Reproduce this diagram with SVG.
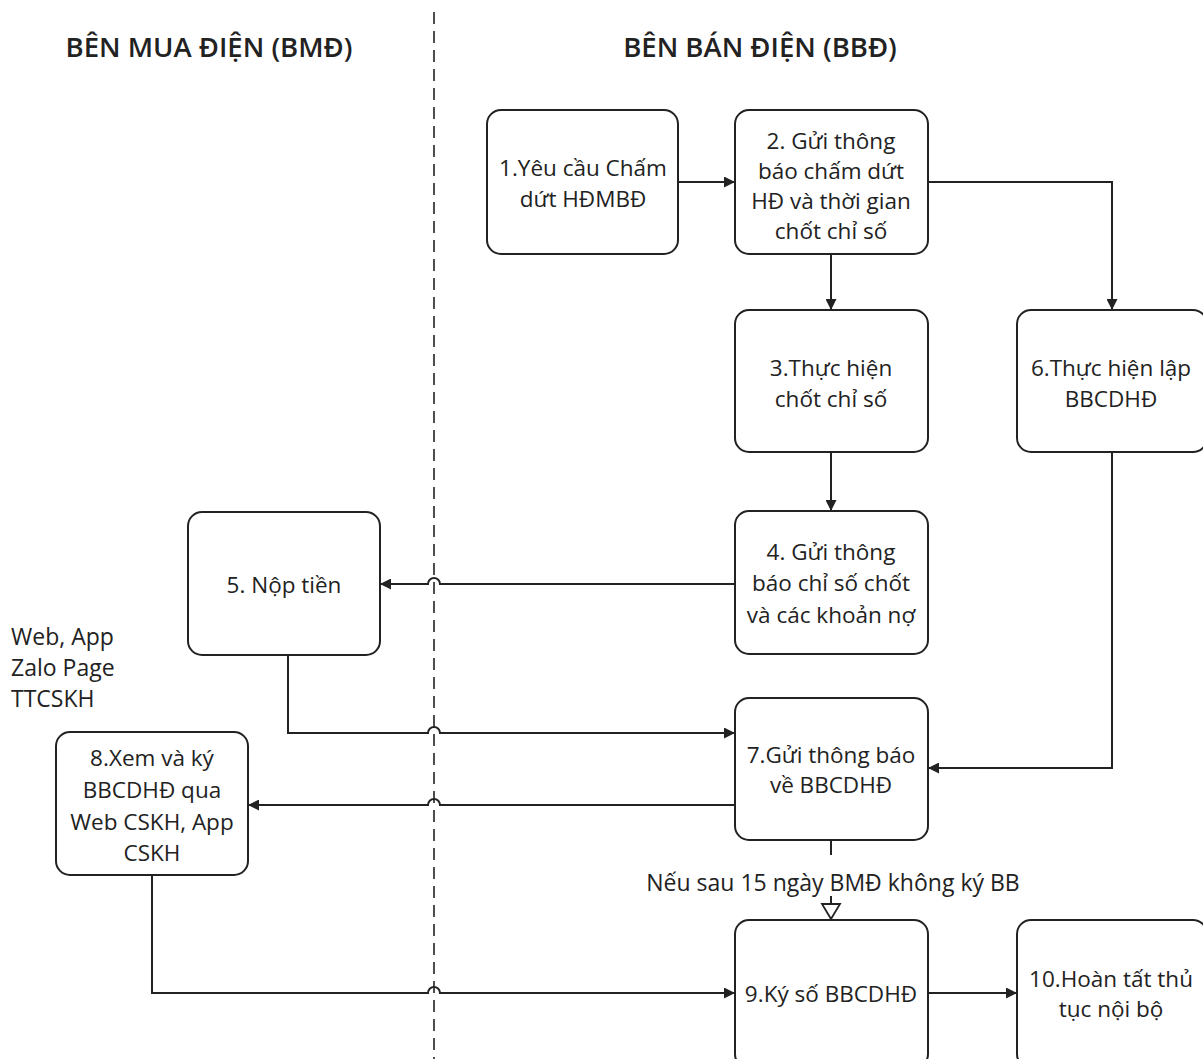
<svg xmlns="http://www.w3.org/2000/svg" width="1203" height="1059" viewBox="0 0 1203 1059">
<defs>
<style>
.box{fill:#fff;stroke:#222;stroke-width:2}
.t{font-family:"Open Sans","Liberation Sans",sans-serif;font-size:22.5px;fill:#222;text-anchor:middle}
.h{font-family:"Open Sans","Liberation Sans",sans-serif;font-size:27.5px;font-weight:600;fill:#222;text-anchor:middle}
.c{fill:none;stroke:#222;stroke-width:2}
.lbl{font-family:"Open Sans","Liberation Sans",sans-serif;font-size:23px;fill:#222}
</style>
<marker id="a" viewBox="0 0 10 10" refX="10" refY="5" markerWidth="11" markerHeight="11" markerUnits="userSpaceOnUse" orient="auto"><path d="M0,0L10,5L0,10z" fill="#222"/></marker>
</defs>
<rect width="1203" height="1059" fill="#fff"/>
<line x1="434" y1="12" x2="434" y2="1059" stroke="#222" stroke-width="1.6" stroke-dasharray="12,7"/>
<text class="h" x="209" y="57">BÊN MUA ĐIỆN (BMĐ)</text>
<text class="h" x="760" y="57">BÊN BÁN ĐIỆN (BBĐ)</text>
<text class="lbl" x="11" y="645">Web, App</text>
<text class="lbl" x="11" y="676">Zalo Page</text>
<text class="lbl" x="11" y="707">TTCSKH</text>
<g id="connectors">
<path class="c" d="M678,182H735" marker-end="url(#a)"/>
<path class="c" d="M928,182H1112V310" marker-end="url(#a)"/>
<path class="c" d="M831,254V310" marker-end="url(#a)"/>
<path class="c" d="M831,452V511" marker-end="url(#a)"/>
<path class="c" d="M735,584H440A6,6 0 0 0 428,584H380" marker-end="url(#a)"/>
<path class="c" d="M288,655V733H428A6,6 0 0 1 440,733H735" marker-end="url(#a)"/>
<path class="c" d="M1112,452V768H928" marker-end="url(#a)"/>
<path class="c" d="M735,805H440A6,6 0 0 0 428,805H248" marker-end="url(#a)"/>
<path class="c" d="M831,840V855"/>
<path class="c" d="M831,896V904"/>
<path d="M822,904L840,904L831,919z" fill="#fff" stroke="#222" stroke-width="1.8"/>
<path class="c" d="M152,875V993H428A6,6 0 0 1 440,993H735" marker-end="url(#a)"/>
<path class="c" d="M928,993H1017" marker-end="url(#a)"/>
<text class="lbl" x="833" y="891" text-anchor="middle">Nếu sau 15 ngày BMĐ không ký BB</text>
</g>
<g id="n1"><rect class="box" x="487" y="110" width="191" height="144" rx="14"/><text class="t" x="583" y="176">1.Yêu cầu Chấm</text><text class="t" x="583" y="207">dứt HĐMBĐ</text></g>
<g id="n2"><rect class="box" x="735" y="110" width="193" height="144" rx="14"/><text class="t" x="831" y="149">2. Gửi thông</text><text class="t" x="831" y="179">báo chấm dứt</text><text class="t" x="831" y="209">HĐ và thời gian</text><text class="t" x="831" y="239">chốt chỉ số</text></g>
<g id="n3"><rect class="box" x="735" y="310" width="193" height="142" rx="14"/><text class="t" x="831" y="376">3.Thực hiện</text><text class="t" x="831" y="407">chốt chỉ số</text></g>
<g id="n6"><rect class="box" x="1017" y="310" width="190" height="142" rx="14"/><text class="t" x="1111" y="376">6.Thực hiện lập</text><text class="t" x="1111" y="407">BBCDHĐ</text></g>
<g id="n4"><rect class="box" x="735" y="511" width="193" height="143" rx="14"/><text class="t" x="831" y="560">4. Gửi thông</text><text class="t" x="831" y="591">báo chỉ số chốt</text><text class="t" x="831" y="623">và các khoản nợ</text></g>
<g id="n5"><rect class="box" x="188" y="512" width="192" height="143" rx="14"/><text class="t" x="284" y="593">5. Nộp tiền</text></g>
<g id="n7"><rect class="box" x="735" y="698" width="193" height="142" rx="14"/><text class="t" x="831" y="763">7.Gửi thông báo</text><text class="t" x="831" y="793">về BBCDHĐ</text></g>
<g id="n8"><rect class="box" x="56" y="732" width="192" height="143" rx="14"/><text class="t" x="152" y="766">8.Xem và ký</text><text class="t" x="152" y="798">BBCDHĐ qua</text><text class="t" x="152" y="830">Web CSKH, App</text><text class="t" x="152" y="861">CSKH</text></g>
<g id="n9"><rect class="box" x="735" y="920" width="193" height="148" rx="14"/><text class="t" x="831" y="1002">9.Ký số BBCDHĐ</text></g>
<g id="n10"><rect class="box" x="1017" y="920" width="190" height="148" rx="14"/><text class="t" x="1111" y="987">10.Hoàn tất thủ</text><text class="t" x="1111" y="1017">tục nội bộ</text></g>
</svg>
